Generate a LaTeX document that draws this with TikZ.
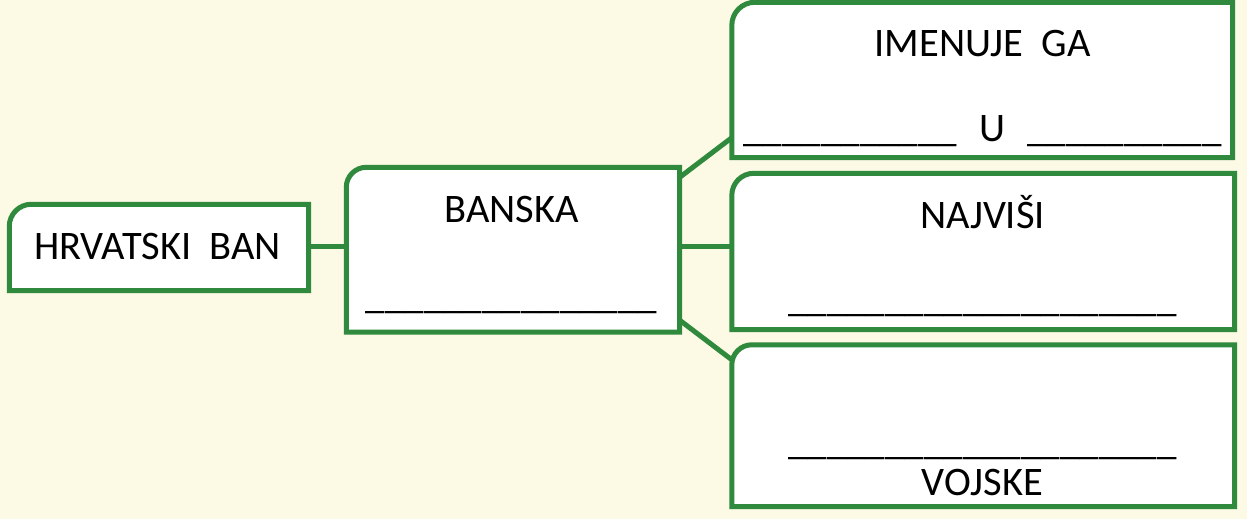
\documentclass[tikz,border=0pt]{standalone}
\usepackage{fontspec}
\setmainfont{Carlito}
\definecolor{bggreen}{HTML}{2F8A3D}
\definecolor{cream}{HTML}{FCF9E4}
\tikzset{
  box/.style={rectangle, inner sep=0pt, minimum width=#1},
  outline/.style={draw=bggreen, line width=5pt, fill=white, line join=miter},
  conn/.style={draw=bggreen, line width=5pt},
  txt/.style={anchor=base, inner sep=0pt, font=\fontsize{40.5}{48}\selectfont, text=black},
  ltxt/.style={anchor=base, inner sep=0pt, font=\fontsize{39}{47}\selectfont, text=black},
}
\newcommand{\topleftbox}[2]{% node name, radius
  \path[outline] (#1.south west) -- ([yshift=-#2pt]#1.north west)
    arc[start angle=180, end angle=90, radius=#2pt] -- (#1.north east) -- (#1.south east) -- cycle;}
\newcommand{\blank}[1]{\foreach \i in {1,...,#1}{\_}}
\begin{document}
\begin{tikzpicture}[x=1pt,y=-1pt]
\useasboundingbox[fill=cream] (0,0) rectangle (1247,519);
% box placeholders
\node[box=299pt, minimum height=86pt] (b1) at (159,247.5) {};
\node[box=333pt, minimum height=164.5pt] (b2) at (513,249.75) {};
\node[box=500.5pt, minimum height=155pt] (b3) at (982.25,80) {};
\node[box=502.5pt, minimum height=156pt] (b4) at (983.25,251.5) {};
\node[box=502.5pt, minimum height=161.5pt] (b5) at (983.25,425.75) {};
\coordinate (mid) at (700,246.7);
% connectors
\draw[conn] (b1.east |- mid) -- (b2.west |- mid);
\draw[conn] (b2.east |- mid) -- (b4.west |- mid);
\draw[conn] ([yshift=-10pt]b2.north east) -- ([yshift=20pt]b3.south west);
\draw[conn] ([yshift=12pt]b2.south east) -- ([yshift=-15pt]b5.north west);
% outlines
\topleftbox{b1}{22}
\topleftbox{b2}{20}
\topleftbox{b3}{23}
\topleftbox{b4}{22}
\topleftbox{b5}{20}
% texts
\node[txt] (t1) at (157.5,259) {HRVATSKI\ \ BAN};
\node[txt] (t2) at (511.7,222.7) {BANSKA};
\node[ltxt] (t2b) at (511.5,308.5) {\blank{15}};
\node[txt] (t3) at (982.5,56.7) {IMENUJE\ \ GA};
\node[ltxt] (t3b) at (982.5,141.7) {\blank{11}\hspace{22pt}{\fontsize{40.5}{48}\selectfont U}\hspace{22pt}\blank{10}};
\node[txt] (t4) at (982.5,228) {NAJVIŠI};
\node[ltxt] (t4b) at (982.5,311.5) {\blank{20}};
\node[ltxt] (t5b) at (982.5,454.5) {\blank{20}};
\node[txt] (t5) at (982.5,495) {VOJSKE};
\end{tikzpicture}
\end{document}
